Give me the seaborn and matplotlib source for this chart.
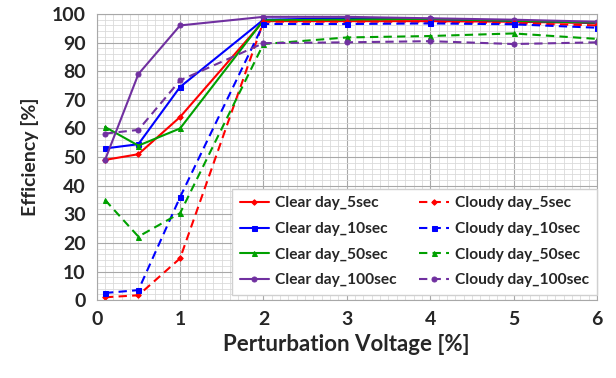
import matplotlib
matplotlib.use("Agg")
import matplotlib.pyplot as plt
from matplotlib.ticker import MultipleLocator
import seaborn as sns
import pandas as pd

# perturbation voltage steps [%]
voltage = [0.1, 0.5, 1, 2, 3, 4, 5, 6]

clear_5 = [49, 51, 64, 97.5, 97.5, 97.5, 97.3, 96.8]
clear_10 = [53, 54.5, 74.5, 98, 98.5, 98.2, 97.6, 97]
clear_50 = [60.5, 54, 60, 97.8, 98, 98.3, 97.6, 97]
clear_100 = [49, 79, 96, 99, 99, 98.5, 98, 97.3]
cloudy_5 = [1, 1.7, 14.6, 97.3, 97.3, 97.3, 96.8, 96]
cloudy_10 = [2.5, 3.5, 36, 96.5, 96.5, 96.7, 96.4, 95.2]
cloudy_50 = [35, 22.2, 30.4, 89.5, 91.8, 92.3, 93.2, 91.3]
cloudy_100 = [58.2, 59.5, 76.8, 89.8, 90.1, 90.5, 89.5, 90.1]

series = {
    "Clear day_5sec": clear_5,
    "Clear day_10sec": clear_10,
    "Clear day_50sec": clear_50,
    "Clear day_100sec": clear_100,
    "Cloudy day_5sec": cloudy_5,
    "Cloudy day_10sec": cloudy_10,
    "Cloudy day_50sec": cloudy_50,
    "Cloudy day_100sec": cloudy_100,
}

colors = {"5sec": "#ff0000", "10sec": "#0000ff", "50sec": "#00a000", "100sec": "#7030a0"}
markers = {"5sec": "D", "10sec": "s", "50sec": "^", "100sec": "o"}

sns.set_style("white")
plt.rcParams["font.family"] = ["Lato", "DejaVu Sans"]

fig = plt.figure(figsize=(6.16, 3.78), dpi=100)
ax = fig.add_axes([0.157, 0.206, 0.812, 0.757])

for name, vals in series.items():
    key = name.split("_")[1]
    df = pd.DataFrame({"x": voltage, "y": vals})
    sns.lineplot(data=df, x="x", y="y", ax=ax, color=colors[key],
                 marker=markers[key], markersize=3.6 if key != "5sec" else 2.8,
                 markeredgecolor=colors[key], linewidth=1.5,
                 linestyle="-" if name.startswith("Clear") else (0, (4, 2.5)),
                 label=name)

ax.set_xlim(0, 6)
ax.set_ylim(0, 100)
ax.xaxis.set_major_locator(MultipleLocator(1))
ax.xaxis.set_minor_locator(MultipleLocator(0.1))
ax.yaxis.set_major_locator(MultipleLocator(10))
ax.yaxis.set_minor_locator(MultipleLocator(2))
ax.grid(which="major", color="#a8a8a8", linewidth=0.8)
ax.grid(which="minor", color="#dadada", linewidth=0.6)
ax.set_axisbelow(True)
for s in ax.spines.values():
    s.set_color("#a8a8a8")
    s.set_linewidth(0.8)

ax.tick_params(axis="both", which="major", direction="out", length=5,
               color="#a8a8a8", labelsize=14, pad=3)
ax.tick_params(which="minor", length=0)
for lab in ax.get_xticklabels() + ax.get_yticklabels():
    lab.set_fontweight("bold")

ax.set_xlabel("Perturbation Voltage [%]", fontsize=16, fontweight="bold", labelpad=4)
ax.set_ylabel("Efficiency [%]", fontsize=14, fontweight="bold", labelpad=9)

handles, labels = ax.get_legend_handles_labels()
leg = ax.legend(handles, labels, ncol=2, loc="lower left",
                bbox_to_anchor=(0.27, 0.017, 0.73, 0.368), mode="expand",
                prop={"weight": "bold", "size": 11.2}, frameon=True, fancybox=False,
                edgecolor="#d0d0d0", framealpha=1, handlelength=1.9,
                borderaxespad=0, borderpad=0.5, labelspacing=0.75, handletextpad=0.4)

fig.savefig("out.png", dpi=100)
